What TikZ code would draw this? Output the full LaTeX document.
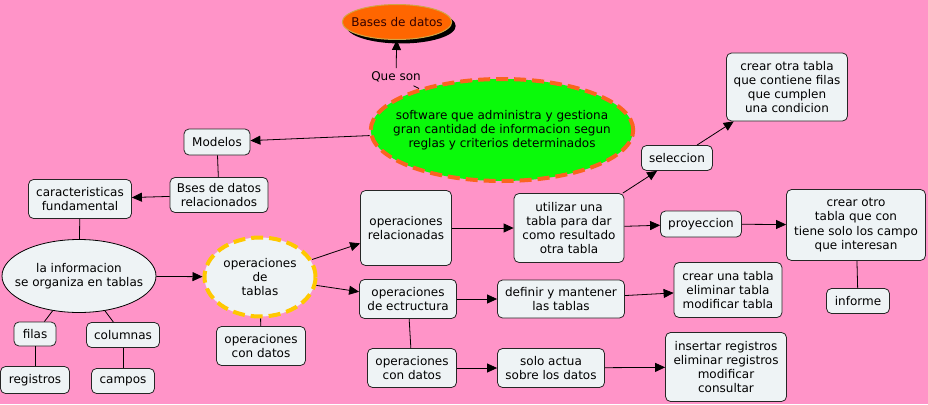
\documentclass[tikz,border=0pt]{standalone}
\usepackage{fontspec}
\setmainfont{DejaVu Sans}
\usetikzlibrary{shapes.geometric,arrows.meta,shadows}

\definecolor{fondo}{RGB}{255,148,200}
\definecolor{cajagris}{RGB}{238,243,245}
\definecolor{verde}{RGB}{10,250,10}
\definecolor{naranja}{RGB}{255,102,0}
\definecolor{trazo}{RGB}{250,100,30}
\definecolor{amarillo}{RGB}{255,200,0}
\definecolor{dorado}{RGB}{210,165,70}

\begin{document}
\begin{tikzpicture}[
x=1pt, y=-1pt,
every node/.style={
font=\fontsize{12}{14.2}\selectfont,
align=center
},
concepto/.style={
draw=black!85,
fill=cajagris,
rounded corners=5pt,
line width=0.8pt,
inner sep=2pt
},
ovalo/.style={ellipse, draw, inner sep=0pt},
punteado/.style={line width=4pt, dash pattern=on 12pt off 6pt},
flecha/.style={-{Triangle[length=10pt,width=9pt]}, line width=0.8pt},
linea/.style={line width=0.8pt}
]

\fill[fondo] (0,0) rectangle (928,404);
\useasboundingbox (0,0) rectangle (928,404);

\node[ovalo, fill=naranja, draw=dorado, line width=1pt, inner xsep=-7pt,
minimum width=105pt, minimum height=35pt,
drop shadow={shadow xshift=4pt, shadow yshift=-4pt, fill=black, opacity=1}] (bases) at (397,22)
{\color{black!80!red}Bases de datos};

\node (queson) at (396,77)
{Que son};

\node[ovalo, fill=verde, draw=trazo, punteado,
inner xsep=-16pt, minimum width=257pt, minimum height=102pt] (software) at (502,130)
{software que administra y gestiona\\gran cantidad de informacion segun\\reglas y criterios determinados};

\node[concepto, minimum width=66pt, minimum height=26pt] (modelos) at (217,142)
{Modelos};

\node[concepto, minimum width=98pt, minimum height=35pt] (bses) at (219,195)
{Bses de datos\\relacionados};

\node[concepto, minimum width=103pt, minimum height=39pt] (caract) at (80,199)
{caracteristicas\\fundamental};

\node[ovalo, fill=cajagris, line width=0.8pt, inner xsep=-10pt,
minimum width=154pt, minimum height=73pt] (informacion) at (79,276)
{la informacion\\se organiza en tablas};

\node[concepto, minimum width=42pt, minimum height=24pt] (filas) at (35,334)
{filas};

\node[concepto, minimum width=73pt, minimum height=25pt] (columnas) at (123,335)
{columnas};

\node[concepto, minimum width=69pt, minimum height=27pt] (registros) at (35,380)
{registros};

\node[concepto, minimum width=63pt, minimum height=25pt] (campos) at (123,381)
{campos};

\node[ovalo, fill=cajagris, draw=amarillo, punteado,
minimum width=111pt, minimum height=79pt] (optablas) at (260,277)
{operaciones\\de\\tablas};

\node[concepto, minimum width=89pt, minimum height=39pt] (opdatosa) at (261,346)
{operaciones\\con datos};

\node[concepto, minimum width=91pt, minimum height=75pt] (oprel) at (406,228)
{operaciones\\relacionadas};

\node[concepto, minimum width=97pt, minimum height=39pt] (opestr) at (408,299)
{operaciones\\de ectructura};

\node[concepto, minimum width=89pt, minimum height=39pt] (opdatosb) at (412,368)
{operaciones\\con datos};

\node[concepto, minimum width=110pt, minimum height=69pt] (utilizar) at (569,228)
{utilizar una\\tabla para dar\\como resultado\\otra tabla};

\node[concepto, minimum width=127pt, minimum height=38pt] (definir) at (561,299)
{definir y mantener\\las tablas};

\node[concepto, minimum width=107pt, minimum height=39pt] (solo) at (551,368)
{solo actua\\sobre los datos};

\node[concepto, minimum width=71pt, minimum height=25pt] (seleccion) at (677,158)
{seleccion};

\node[concepto, minimum width=121pt, minimum height=68pt] (crearotra) at (787,87)
{crear otra tabla\\que contiene filas\\que cumplen\\una condicion};

\node[concepto, minimum width=81pt, minimum height=26pt] (proyeccion) at (701,224)
{proyeccion};

\node[concepto, minimum width=139pt, minimum height=71pt] (crearotro) at (856,225)
{crear otro\\tabla que con\\tiene solo los campo\\que interesan};

\node[concepto, minimum width=63pt, minimum height=25pt] (informe) at (858,301)
{informe};

\node[concepto, minimum width=108pt, minimum height=55pt] (crearuna) at (728,290)
{crear una tabla\\eliminar tabla\\modificar tabla};

\node[concepto, minimum width=121pt, minimum height=69pt] (insertar) at (726,367)
{insertar registros\\eliminar registros\\modificar\\consultar};

\draw[linea] (software) -- (queson);
\draw[flecha] (queson) -- (bases);
\draw[flecha] (software) -- (modelos);
\draw[linea] (modelos) -- (bses);
\draw[flecha] (bses) -- (caract);
\draw[linea] (caract) -- (informacion);
\draw[linea] (informacion) -- (filas);
\draw[linea] (informacion) -- (columnas);
\draw[linea] (filas) -- (registros);
\draw[linea] (columnas) -- (campos);
\draw[flecha] (informacion) -- (optablas);
\draw[linea] (optablas) -- (opdatosa);
\draw[flecha] (optablas) -- (oprel);
\draw[flecha] (optablas) -- (opestr);
\draw[linea] (opestr) -- (opdatosb);
\draw[flecha] (oprel) -- (utilizar);
\draw[flecha] (opestr) -- (definir);
\draw[flecha] (opdatosb) -- (solo);
\draw[flecha] (utilizar) -- (seleccion);
\draw[flecha] (seleccion) -- (crearotra);
\draw[flecha] (utilizar) -- (proyeccion);
\draw[flecha] (proyeccion) -- (crearotro);
\draw[linea] (crearotro) -- (informe);
\draw[flecha] (definir) -- (crearuna);
\draw[flecha] (solo) -- (insertar);

\end{tikzpicture}
\end{document}
